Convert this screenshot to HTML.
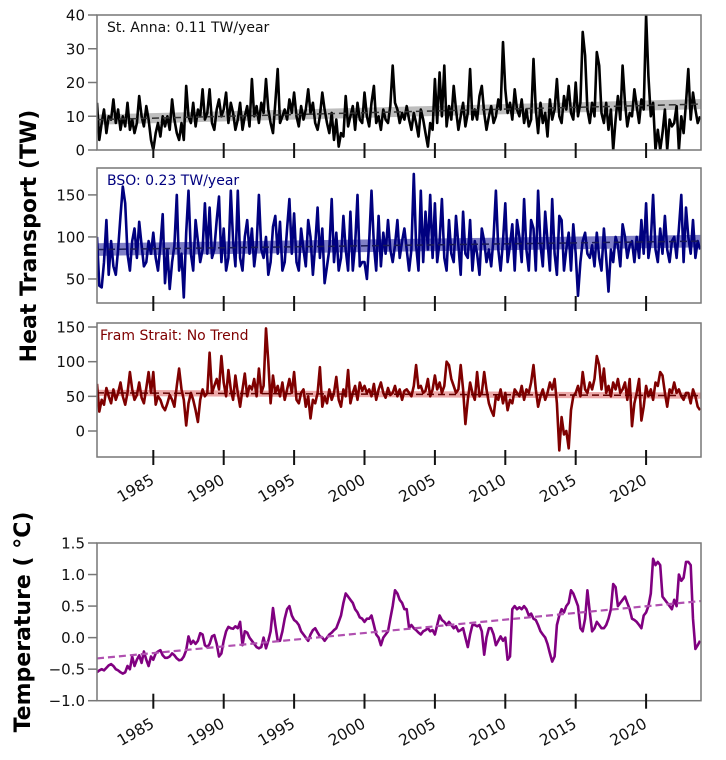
<!DOCTYPE html>
<html><head><meta charset="utf-8">
<style>
html,body{margin:0;padding:0;background:#fff;}
svg{display:block;font-family:"DejaVu Sans","Liberation Sans",sans-serif;}
</style></head>
<body>
<svg id="chart" width="726" height="760" viewBox="0 0 726 760"></svg>
<script>
const years = [1985,1990,1995,2000,2005,2010,2015,2020];
const stAnnaValues = [
14,3,8,12,5,10, 9,15,8,12,6,10, 7,14,6,9,5,8, 16,10,7,13,9,3, 0,5,8,4,10,7,
10,6,15,9,5,3, 8,3,19,10,8,14, 7,12,10,18,9,11, 18,8,6,12,15,10, 12,17,8,14,11,6,
9,14,6,10,13,7, 21,10,13,8,14,11, 21,12,8,5,14,24, 8,10,12,9,15,11, 17,10,7,13,9,12,
18,11,14,8,6,10, 17,12,8,5,11,3, 9,1,5,4,16,7, 10,13,6,14,9,8, 17,10,7,14,19,8,
10,6,12,9,8,13, 25,14,12,8,11,9, 13,9,6,11,8,4, 12,9,5,1,8,6, 21,8,23,10,25,7,
13,9,19,12,6,10, 14,7,11,24,9,12, 9,16,19,11,6,10, 13,8,10,15,12,32, 18,11,14,9,18,12,
10,15,8,12,7,9, 27,12,5,14,8,11, 4,15,9,12,21,10, 8,16,12,19,11,9, 20,10,14,35,28,12,
8,14,10,29,25,11, 8,14,6,12,0,9, 16,9,25,14,7,11, 10,18,13,8,15,12, 40,22,10,14,0,6,
0,5,12,0,9,7, 8,13,0,10,5,14, 24,9,17,12,8,10];
const bsoValues = [
100,42,40,70,120,55, 95,65,55,85,125,160, 140,80,60,95,110,75, 118,90,65,70,95,80, 105,75,60,90,127,45,
85,38,70,90,150,60, 80,28,105,155,80,60, 120,95,70,85,140,80, 135,75,85,120,148,70, 110,60,75,155,95,65,
155,75,60,100,120,80, 110,65,90,150,85,75, 100,55,70,112,125,80, 118,60,70,110,145,80, 128,70,60,110,85,65,
120,100,55,90,135,75, 110,45,65,85,145,70, 105,60,75,125,85,60, 130,60,90,150,65,70, 70,50,95,155,90,60,
125,65,105,80,120,85, 70,90,120,75,95,110, 85,60,85,175,90,60, 155,70,130,85,150,75, 140,70,95,145,75,60,
120,80,70,125,90,55, 130,80,75,120,60,95, 80,55,110,95,70,85, 65,100,155,85,60,95, 140,70,90,115,60,120,
100,70,145,85,60,120, 110,60,155,90,65,130, 95,60,145,80,55,125, 120,60,85,105,60,115, 80,30,70,95,105,80,
75,90,65,105,75,60, 110,75,35,85,70,100, 90,65,115,100,75,90, 95,70,100,75,120,80, 140,75,95,150,85,70,
110,80,125,85,70,95, 100,75,110,150,70,135, 100,80,120,75,95,85];
const framValues = [
68,28,45,38,62,50, 40,60,45,55,70,50, 38,55,85,60,45,52, 70,48,40,62,85,55, 85,38,50,45,35,30,
40,52,45,35,65,90, 60,45,8,40,55,45, 30,13,45,60,50,55, 113,55,65,75,60,108, 70,50,88,60,45,80,
55,35,60,83,50,65, 60,75,50,90,55,65, 148,100,40,80,55,65, 50,70,45,60,75,55, 85,45,40,55,60,35,
50,18,45,40,55,92, 35,50,40,60,45,55, 78,45,35,60,50,88, 40,55,65,45,70,58, 65,55,60,50,68,45,
60,70,55,48,62,52, 55,65,50,60,45,58, 60,55,50,65,95,62, 65,55,58,75,50,60, 80,60,70,55,65,100,
95,75,65,55,60,95, 60,10,45,70,55,45, 85,50,55,85,60,40, 30,22,50,45,60,40, 55,30,45,40,60,55,
50,65,45,60,55,70, 95,60,35,50,60,45, 55,70,60,75,40,-28, 20,-5,0,-25,30,50, 55,65,50,85,60,55,
70,60,75,108,95,60, 90,55,65,50,70,60, 75,55,60,70,45,75, 7,40,55,75,15,35, 65,50,60,45,70,65,
85,80,55,35,60,55, 70,55,60,50,45,55, 55,40,60,50,35,30];
const tempValues = [
-0.55,-0.52,-0.50,-0.52,-0.48,-0.44, -0.42,-0.45,-0.50,-0.52,-0.55,-0.57, -0.55,-0.45,-0.50,-0.30,-0.45,-0.35,
-0.28,-0.40,-0.22,-0.35,-0.45,-0.30, -0.35,-0.25,-0.22,-0.20,-0.28,-0.32, -0.32,-0.30,-0.25,-0.28,-0.33,-0.36,
-0.35,-0.30,-0.20,0.02,-0.10,-0.05, -0.10,-0.05,0.07,0.05,-0.12,-0.15, -0.10,0.02,0.04,-0.10,-0.30,-0.25,
-0.05,0.10,0.17,0.15,0.14,0.18, 0.15,0.25,-0.12,0.10,0.08,0.00, -0.05,-0.10,-0.15,-0.17,-0.15,0.00,
-0.17,-0.05,0.10,0.47,0.20,-0.05, -0.05,0.10,0.30,0.45,0.50,0.35, 0.28,0.25,0.20,0.10,0.05,0.00,
-0.05,0.05,0.12,0.15,0.08,0.02, 0.00,-0.05,0.00,0.05,0.08,0.12, 0.15,0.25,0.35,0.55,0.70,0.65,
0.60,0.55,0.45,0.40,0.32,0.30, 0.25,0.30,0.30,0.35,0.20,0.05, 0.00,-0.12,0.00,0.05,0.10,0.30,
0.50,0.75,0.70,0.60,0.55,0.45, 0.45,0.15,0.20,0.15,0.12,0.08, 0.05,0.10,0.12,0.15,0.10,0.12,
0.05,0.20,0.35,0.28,0.25,0.20, 0.25,0.20,0.15,0.18,0.10,0.12, 0.15,0.00,-0.15,0.05,0.20,0.20,
0.18,0.20,0.10,-0.27,0.00,0.15, 0.15,0.05,-0.12,-0.05,0.02,-0.05, 0.00,-0.35,-0.30,0.45,0.50,0.45,
0.48,0.45,0.50,0.45,0.35,0.38, 0.30,0.28,0.20,0.10,0.05,0.00, -0.10,-0.25,-0.38,-0.30,0.20,0.35,
0.45,0.40,0.50,0.55,0.75,0.70, 0.60,0.50,0.15,0.10,0.30,0.75, 0.40,0.10,0.15,0.25,0.20,0.15,
0.15,0.20,0.30,0.45,0.85,0.80, 0.50,0.55,0.60,0.65,0.55,0.45, 0.30,0.28,0.25,0.20,0.15,0.35,
0.40,0.50,0.70,1.25,1.15,1.20, 1.15,0.65,0.60,0.55,0.50,0.45, 0.60,0.50,1.00,0.90,0.95,1.20,
1.20,1.15,0.30,-0.18,-0.12,-0.05];
const stAnnaTrend = [9.0, 13.6];
const bsoTrend = [85, 95];
const framTrend = [55, 51];
const tempTrend = [-0.33, 0.58];
const stAnnaTicks = [0,10,20,30,40];
const bsoTicks = [50,100,150];
const framTicks = [0,50,100,150];
const tempTicks = [-1.0,-0.5,0.0,0.5,1.0,1.5];

const NS = "http://www.w3.org/2000/svg";
const svg = document.getElementById('chart');
const X0 = 97, X1 = 701, T0 = 1981.0, T1 = 2023.9;
function xs(t){ return X0 + (t - T0) / (T1 - T0) * (X1 - X0); }
function mk(tag, attrs, parent){
  const e = document.createElementNS(NS, tag);
  for (const k in attrs) e.setAttribute(k, attrs[k]);
  (parent || svg).appendChild(e);
  return e;
}

function panel(cfg){
  const g = mk('g', {});
  
  
  const ys = v => cfg.top + (cfg.vmax - v) / (cfg.vmax - cfg.vmin) * (cfg.bottom - cfg.top);
  const clipId = cfg.name + '-clip';
  const cp = mk('clipPath', {id: clipId}, g);
  mk('rect', {x: X0, y: cfg.top, width: X1 - X0, height: cfg.bottom - cfg.top}, cp);
  const tA = cfg.trend[0], tB = cfg.trend[1];
  if (cfg.band > 0) {
    const band = mk('polygon', {
      points: `${X0},${ys(tA + cfg.band)} ${X1},${ys(tB + cfg.band)} ${X1},${ys(tB - cfg.band)} ${X0},${ys(tA - cfg.band)}`,
      fill: cfg.bandColor, 'fill-opacity': cfg.bandOpacity, 'clip-path': `url(#${clipId})`}, g);
    
    
  }
  let d = '';
  cfg.values.forEach((v, i) => {
    const t = T0 + i / 6;
    d += (i ? 'L' : 'M') + xs(t).toFixed(1) + ',' + ys(v).toFixed(1);
  });
  const line = mk('path', {d, fill: 'none', stroke: cfg.color, 'stroke-width': 2.6,
    'stroke-linejoin': 'round', 'clip-path': `url(#${clipId})`}, g);
  
  
  const tl = mk('line', {x1: X0, y1: ys(tA), x2: X1, y2: ys(tB), stroke: cfg.trendColor,
    'stroke-width': cfg.trendWidth, 'stroke-dasharray': '7,4', 'clip-path': `url(#${clipId})`}, g);
  
  
  const fr = mk('rect', {x: X0, y: cfg.top, width: X1 - X0, height: cfg.bottom - cfg.top,
    fill: 'none', stroke: '#777', 'stroke-width': 1.5}, g);
  
  
  cfg.yticks.forEach(v => {
    const y = ys(v);
    const tk = mk('line', {x1: X0 - 9, y1: y, x2: X0, y2: y, stroke: '#777', 'stroke-width': 1.5}, g);
    
    
    const lb = mk('text', {x: X0 - 12, y: y + 5.5, 'text-anchor': 'end', 'font-size': 15, fill: '#111'}, g);
    lb.textContent = cfg.fmt ? cfg.fmt(v) : String(v);
    
    
  });
  years.forEach(yr => {
    const x = xs(yr);
    const tk = mk('line', {x1: x, y1: cfg.bottom - 7, x2: x, y2: cfg.bottom + 8, stroke: '#111', 'stroke-width': 2}, g);
    
    
    if (cfg.xlabels) {
      const lb = mk('text', {x: x + 2, y: cfg.bottom + 26, 'text-anchor': 'end', 'font-size': 15.5, fill: '#111',
        transform: `rotate(-30 ${x + 2} ${cfg.bottom + 26})`}, g);
      lb.textContent = String(yr);
      
      
    }
  });
  if (cfg.title) {
    const tt = mk('text', {x: cfg.titleX, y: cfg.top + 17, 'font-size': 14, fill: cfg.titleColor}, g);
    tt.textContent = cfg.title;
    
    
  }
}

panel({name: 'st-anna-panel', top: 15, bottom: 150, vmin: 0, vmax: 40, values: stAnnaValues,
  color: '#000', trend: stAnnaTrend, band: 1.5, bandColor: '#888', bandOpacity: 0.55,
  trendColor: '#333', trendWidth: 1.5, yticks: stAnnaTicks, xlabels: false,
  title: 'St. Anna: 0.11 TW/year', titleX: 107, titleColor: '#111'});
panel({name: 'bso-panel', top: 168, bottom: 303, vmin: 21.4, vmax: 182, values: bsoValues,
  color: '#00007f', trend: bsoTrend, band: 7.5, bandColor: '#3a3aa8', bandOpacity: 0.65,
  trendColor: '#1a1a55', trendWidth: 1.5, yticks: bsoTicks, xlabels: false,
  title: 'BSO: 0.23 TW/year', titleX: 107, titleColor: '#00007f'});
panel({name: 'fram-strait-panel', top: 323, bottom: 457, vmin: -37.5, vmax: 155.8, values: framValues,
  color: '#7f0000', trend: framTrend, band: 4.5, bandColor: '#e07070', bandOpacity: 0.6,
  trendColor: '#600000', trendWidth: 1.5, yticks: framTicks, xlabels: true,
  title: 'Fram Strait: No Trend', titleX: 100, titleColor: '#7f0000'});
panel({name: 'temperature-panel', top: 543, bottom: 700.7, vmin: -1.0, vmax: 1.5, values: tempValues,
  color: '#800080', trend: tempTrend, band: 0, trendColor: '#b050b0', trendWidth: 2.2,
  yticks: tempTicks, xlabels: true, fmt: v => v.toFixed(1).replace('-', '\u2212')});

const yt1 = mk('text', {x: 0, y: 0, 'font-size': 22, 'font-weight': 'bold', 'text-anchor': 'middle', fill: '#000',
  transform: 'translate(36 236) rotate(-90)'});
yt1.textContent = 'Heat Transport (TW)';


const yt2 = mk('text', {x: 0, y: 0, 'font-size': 22, 'font-weight': 'bold', 'text-anchor': 'middle', fill: '#000',
  transform: 'translate(30 622) rotate(-90)'});
yt2.textContent = 'Temperature ( \u00B0C)';


</script>
</body></html>
